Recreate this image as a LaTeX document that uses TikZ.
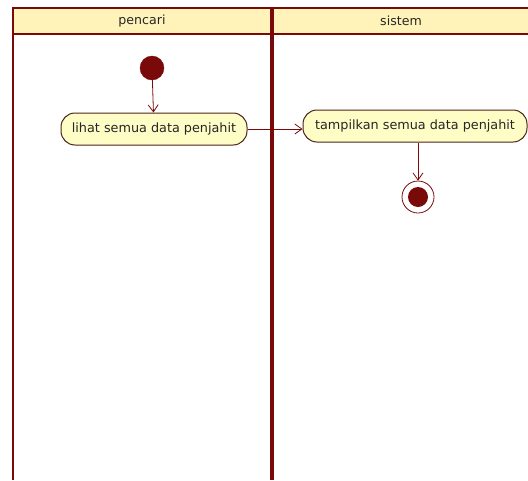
\documentclass[tikz,border=0pt]{standalone}
\usepackage{fontspec}
\setmainfont{DejaVu Sans}
\usetikzlibrary{arrows.meta}
\definecolor{umlred}{HTML}{7A0A0A}
\definecolor{lanefill}{HTML}{FFF3BA}
\definecolor{actfill}{HTML}{FFFDC6}
\definecolor{actedge}{HTML}{4A2418}
\begin{document}
\begin{tikzpicture}[x=1pt,y=-1pt,
  laneline/.style={draw=umlred,line width=2pt},
  divider/.style={draw=umlred,line width=3.5pt},
  lanetitle/.style={font=\fontsize{12.6}{15}\selectfont,text=black!85},
  action/.style={draw=actedge,fill=actfill,line width=1pt,rounded corners=14pt,
    minimum height=32pt,inner xsep=6pt,font=\fontsize{12.8}{15}\selectfont,text=black!85},
  startnode/.style={circle,fill=umlred,draw=umlred,minimum size=24pt,inner sep=0pt},
  endring/.style={circle,draw=umlred,line width=0.8pt,fill=white,minimum size=32pt,inner sep=0pt},
  flow/.style={draw=umlred,line width=0.8pt,-{Straight Barb[length=7pt,width=10pt]}}]
  \useasboundingbox (0,0) rectangle (528,480);
  % swimlane header band
  \fill[lanefill] (13,8) rectangle (528,34);
  \draw[laneline] (528,8) -- (13,8) -- (13,480);
  \draw[laneline] (13,34) -- (528,34);
  \draw[divider] (272,8) -- (272,480);
  \node[lanetitle] (lane1) at (142,21) {pencari};
  \node[lanetitle] (lane2) at (401,21) {sistem};
  % activity flow
  \node[startnode] (start) at (152,68) {};
  \node[action,minimum width=186pt] (a1) at (154,129) {lihat semua data penjahit};
  \node[action,minimum width=224pt] (a2) at (415,126) {tampilkan semua data penjahit};
  \node[endring] (stop) at (418,197) {};
  \node[circle,fill=umlred,minimum size=20pt,inner sep=0pt] (stopdot) at (stop) {};
  \draw[flow] (start) -- (a1);
  \draw[flow] (a1.east) -- (a2.west |- a1.east);
  \draw[flow] (a2.south -| stop) -- (stop);
\end{tikzpicture}
\end{document}
